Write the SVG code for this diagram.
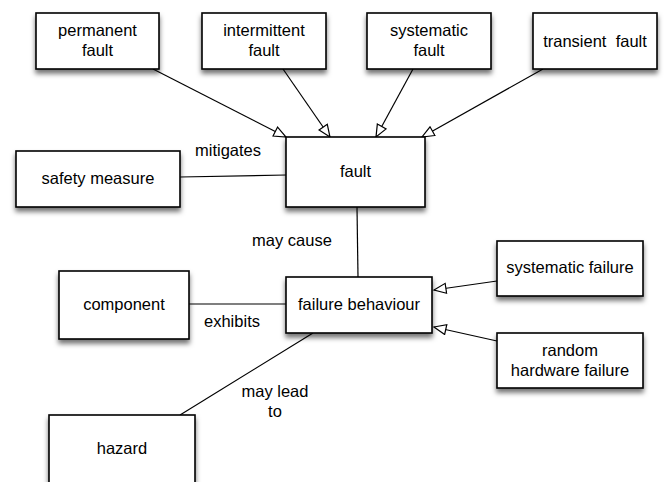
<svg xmlns="http://www.w3.org/2000/svg" width="664" height="482" viewBox="0 0 664 482">
  <style>
    .box rect { fill: #ffffff; stroke: #000000; stroke-width: 1.6; filter: url(#shadow); }
    text { font-family: "Liberation Sans", Arial, Helvetica, sans-serif; font-size: 16.5px; fill: #000000; text-anchor: middle; }
    .conn line { stroke: #000000; stroke-width: 1.2; fill: none; }
    .arrow { marker-end: url(#hollow); }
  </style>
  <defs>
    <filter id="shadow" x="-20%" y="-20%" width="140%" height="150%">
      <feDropShadow dx="0" dy="4" stdDeviation="2.5" flood-color="#000000" flood-opacity="0.55"/>
    </filter>
    <marker id="hollow" markerUnits="userSpaceOnUse" markerWidth="16" markerHeight="14" refX="13" refY="6" orient="auto" viewBox="0 0 16 14">
      <path d="M1,1 L13,6 L1,11 Z" fill="#ffffff" stroke="#000000" stroke-width="1.2"/>
    </marker>
  </defs>

  <g id="connectors" class="conn">
    <line class="arrow" x1="153" y1="69" x2="286" y2="137"/>
    <line class="arrow" x1="283" y1="69" x2="330" y2="137"/>
    <line class="arrow" x1="413" y1="69" x2="376" y2="137"/>
    <line class="arrow" x1="543" y1="69" x2="422" y2="137"/>
    <line x1="180" y1="177" x2="286" y2="175"/>
    <line x1="357" y1="207" x2="358" y2="277"/>
    <line x1="189" y1="304" x2="286" y2="304"/>
    <line class="arrow" x1="497" y1="281" x2="434" y2="290"/>
    <line class="arrow" x1="497" y1="341" x2="434" y2="327"/>
    <line x1="313" y1="333" x2="180" y2="415"/>
  </g>

  <g id="permanent-fault" class="box">
    <rect x="36" y="13" width="123" height="56"/>
    <text x="97.5" y="36">permanent</text>
    <text x="97.5" y="56">fault</text>
  </g>
  <g id="intermittent-fault" class="box">
    <rect x="202" y="13" width="124" height="56"/>
    <text x="264" y="36">intermittent</text>
    <text x="264" y="56">fault</text>
  </g>
  <g id="systematic-fault" class="box">
    <rect x="367" y="13" width="124" height="56"/>
    <text x="429" y="36">systematic</text>
    <text x="429" y="56">fault</text>
  </g>
  <g id="transient-fault" class="box">
    <rect x="533" y="13" width="124" height="56"/>
    <text x="595" y="47" xml:space="preserve" style="white-space:pre">transient  fault</text>
  </g>
  <g id="fault" class="box">
    <rect x="286" y="137" width="139" height="70"/>
    <text x="355.5" y="177">fault</text>
  </g>
  <g id="safety-measure" class="box">
    <rect x="16" y="151" width="164" height="56"/>
    <text x="98" y="184">safety measure</text>
  </g>
  <g id="failure-behaviour" class="box">
    <rect x="286" y="277" width="146" height="56"/>
    <text x="359" y="310">failure behaviour</text>
  </g>
  <g id="component" class="box">
    <rect x="59" y="271" width="130" height="68"/>
    <text x="124" y="310">component</text>
  </g>
  <g id="systematic-failure" class="box">
    <rect x="497" y="241" width="146" height="55"/>
    <text x="570" y="273">systematic failure</text>
  </g>
  <g id="random-hardware-failure" class="box">
    <rect x="497" y="333" width="146" height="55"/>
    <text x="570" y="356">random</text>
    <text x="570" y="376">hardware failure</text>
  </g>
  <g id="hazard" class="box">
    <rect x="49" y="415" width="146" height="80"/>
    <text x="122" y="454">hazard</text>
  </g>

  <g id="labels">
    <text x="228" y="156">mitigates</text>
    <text x="292" y="246">may cause</text>
    <text x="232" y="327">exhibits</text>
    <text x="275" y="397">may lead</text>
    <text x="275" y="417">to</text>
  </g>
</svg>
